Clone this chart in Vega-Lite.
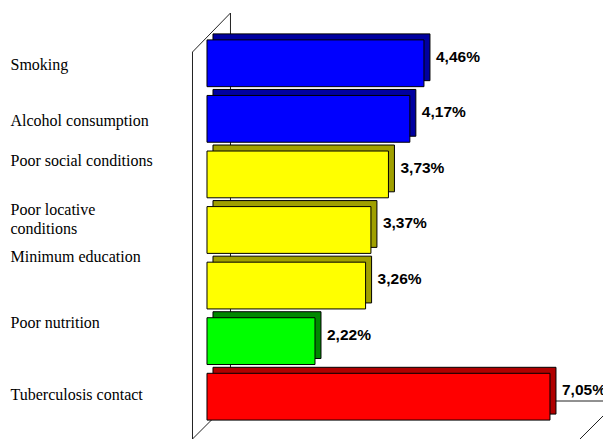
{
  "$schema": "https://vega.github.io/schema/vega-lite/v6.json",
  "width": 411,
  "height": 426,
  "autosize": {"type": "none"},
  "padding": {"left": 192, "top": 13, "right": 0, "bottom": 0},
  "background": "white",
  "config": {"view": {"stroke": null}},
  "datasets": {
    "bars": [
      {"factor": "Smoking", "pct": 4.46, "label": "4,46%", "group": "Habits"},
      {"factor": "Alcohol consumption", "pct": 4.17, "label": "4,17%", "group": "Habits"},
      {"factor": "Poor social conditions", "pct": 3.73, "label": "3,73%", "group": "Socioeconomic"},
      {"factor": "Poor locative conditions", "pct": 3.37, "label": "3,37%", "group": "Socioeconomic"},
      {"factor": "Minimum education", "pct": 3.26, "label": "3,26%", "group": "Socioeconomic"},
      {"factor": "Poor nutrition", "pct": 2.22, "label": "2,22%", "group": "Nutrition"},
      {"factor": "Tuberculosis contact", "pct": 7.05, "label": "7,05%", "group": "Contact"}
    ],
    "frame": [
      {"x0": -0.298, "y0": 0, "x1": -0.298, "y1": 387},
      {"x0": -0.298, "y0": 387, "x1": 0.483, "y1": 426},
      {"x0": 0.483, "y0": 426, "x1": 0.483, "y1": 38},
      {"x0": -0.298, "y0": 0, "x1": 0.483, "y1": 38},
      {"x0": 0.483, "y0": 38, "x1": 8.14, "y1": 38},
      {"x0": 7.667, "y0": 0, "x1": 8.14, "y1": 23}
    ]
  },
  "resolve": {"scale": {"y": "independent"}, "axis": {"y": "independent"}},
  "layer": [
    {
      "data": {"name": "frame"},
      "mark": {"type": "rule", "color": "#222222", "strokeWidth": 1},
      "encoding": {
        "x": {"field": "x0", "type": "quantitative", "scale": {"domain": [-0.308, 8.14], "nice": false, "zero": false}, "axis": null},
        "x2": {"field": "x1"},
        "y": {"field": "y0", "type": "quantitative", "scale": {"domain": [0, 426], "nice": false}, "axis": null},
        "y2": {"field": "y1"}
      }
    },
    {
      "data": {"name": "bars"},
      "resolve": {"scale": {"color": "independent"}},
      "encoding": {
        "y": {
          "field": "factor",
          "type": "nominal",
          "sort": null,
          "scale": {"paddingInner": 0.158, "paddingOuter": 0.412, "align": 0.587},
          "axis": {
            "orient": "left",
            "title": null,
            "domain": false,
            "ticks": false,
            "tickSize": 0,
            "labelAlign": "left",
            "labelBaseline": "middle",
            "labelPadding": 182,
            "labelFont": "Liberation Serif",
            "labelFontSize": 16,
            "labelColor": "black",
            "labelLimit": 0,
            "labelLineHeight": 19,
            "labelExpr": "datum.label == 'Poor locative conditions' ? ['Poor locative', 'conditions'] : datum.label",
            "labelOffset": {
              "condition": [
                {"test": "datum.value == 'Smoking'", "value": 2},
                {"test": "datum.value == 'Alcohol consumption'", "value": 2},
                {"test": "datum.value == 'Poor social conditions'", "value": -13},
                {"test": "datum.value == 'Poor locative conditions'", "value": -20},
                {"test": "datum.value == 'Minimum education'", "value": -28.5},
                {"test": "datum.value == 'Poor nutrition'", "value": -17.7}
              ],
              "value": -1.7
            }
          }
        }
      },
      "layer": [
        {
          "mark": {"type": "bar", "xOffset": 6, "x2Offset": 6, "yOffset": -6, "y2Offset": -6, "stroke": "#000000", "strokeWidth": 1},
          "encoding": {
            "x": {"field": "pct", "type": "quantitative", "stack": null, "scale": {"domain": [-0.308, 8.14], "nice": false, "zero": false}, "axis": null},
            "x2": {"datum": 0},
            "color": {"field": "group", "type": "nominal", "legend": null, "scale": {"domain": ["Habits", "Socioeconomic", "Nutrition", "Contact"], "range": ["#0000A0", "#A0A000", "#008800", "#B00000"]}}
          }
        },
        {
          "mark": {"type": "bar", "stroke": "#000000", "strokeWidth": 1},
          "encoding": {
            "x": {"field": "pct", "type": "quantitative", "stack": null, "scale": {"domain": [-0.308, 8.14], "nice": false, "zero": false}, "axis": null},
            "x2": {"datum": 0},
            "color": {"field": "group", "type": "nominal", "legend": null, "scale": {"domain": ["Habits", "Socioeconomic", "Nutrition", "Contact"], "range": ["#0000FF", "#FFFF00", "#00FF00", "#FF0000"]}}
          }
        },
        {
          "mark": {"type": "text", "align": "left", "baseline": "middle", "dx": 12, "dy": -6.5, "font": "Liberation Sans", "fontWeight": "bold", "fontSize": 15.5, "color": "#000000"},
          "encoding": {
            "x": {"field": "pct", "type": "quantitative", "scale": {"domain": [-0.308, 8.14], "nice": false, "zero": false}, "axis": null},
            "text": {"field": "label"}
          }
        }
      ]
    }
  ]
}
